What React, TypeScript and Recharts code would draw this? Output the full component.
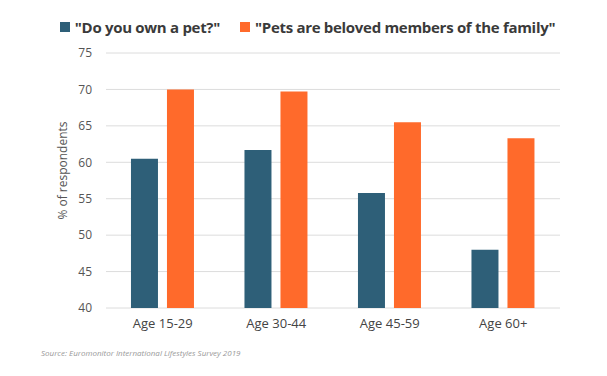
import React from 'react';
import { BarChart, Bar, XAxis, YAxis, CartesianGrid, Legend } from 'recharts';

const categories = ['Age 15-29', 'Age 30-44', 'Age 45-59', 'Age 60+'];
const ownPet = [60.5, 61.7, 55.8, 48];
const belovedFamily = [70, 69.7, 65.5, 63.3];
const yTicks = [40, 45, 50, 55, 60, 65, 70, 75];

const data = categories.map((name, i) => ({
  name,
  own: ownPet[i],
  beloved: belovedFamily[i],
}));

const FONT = '"Open Sans", sans-serif';

function LegendContent({ payload }: any) {
  return (
    <div style={{ display: 'flex', justifyContent: 'center', alignItems: 'center', fontFamily: FONT, height: 22 }}>
      {(payload || []).map((p: any, i: number) => (
        <div key={i} style={{ display: 'flex', alignItems: 'center', marginRight: i === 0 ? 20 : 0 }}>
          <span style={{ width: 10, height: 10, background: p.color, display: 'inline-block', marginRight: 5 }} />
          <span style={{ fontSize: 15, fontWeight: 700, color: '#3a3a3a', letterSpacing: -0.3 }}>{p.value}</span>
        </div>
      ))}
    </div>
  );
}

function YLabel({ viewBox }: any) {
  const x = viewBox.x + 6;
  const y = viewBox.y + viewBox.height / 2 - 10;
  return (
    <text x={x} y={y} transform={`rotate(-90, ${x}, ${y})`} textAnchor="middle" dominantBaseline="central"
      fontFamily={FONT} fontSize={12} fill="#555">
      % of respondents
    </text>
  );
}

export default function App() {
  return (
    <div style={{ position: 'absolute', left: 0, top: 0, width: 607, height: 376, background: '#fff' }}>
      <BarChart width={607} height={376} data={data}
        margin={{ top: 31, right: 47, left: 56, bottom: 38 }}
        barCategoryGap="22%" barGap={9}>
        <CartesianGrid vertical={false} stroke="#dcdcdc" />
        <XAxis dataKey="name" axisLine={false} tickLine={false} tickSize={0} tickMargin={11} height={30}
          tick={{ fontFamily: FONT, fontSize: 13, fill: '#444' }} />
        <YAxis domain={[40, 75]} ticks={yTicks} width={50} axisLine={false} tickLine={false} tickSize={0}
          tickMargin={14} tick={{ fontFamily: FONT, fontSize: 12, fill: '#555' }}
          label={<YLabel />} />
        <Legend verticalAlign="top" height={22} content={<LegendContent />} wrapperStyle={{ top: 16, left: 4, width: 607 }} />
        <Bar dataKey="own" name={'"Do you own a pet?"'} fill="#2E5F78" isAnimationActive={false} />
        <Bar dataKey="beloved" name={'"Pets are beloved members of the family"'} fill="#FF6A2B" isAnimationActive={false} />
      </BarChart>
      <div style={{ position: 'absolute', left: 41, top: 347, fontFamily: FONT, fontSize: 8, fontStyle: 'italic', color: '#999' }}>
        Source: Euromonitor International Lifestyles Survey 2019
      </div>
    </div>
  );
}
